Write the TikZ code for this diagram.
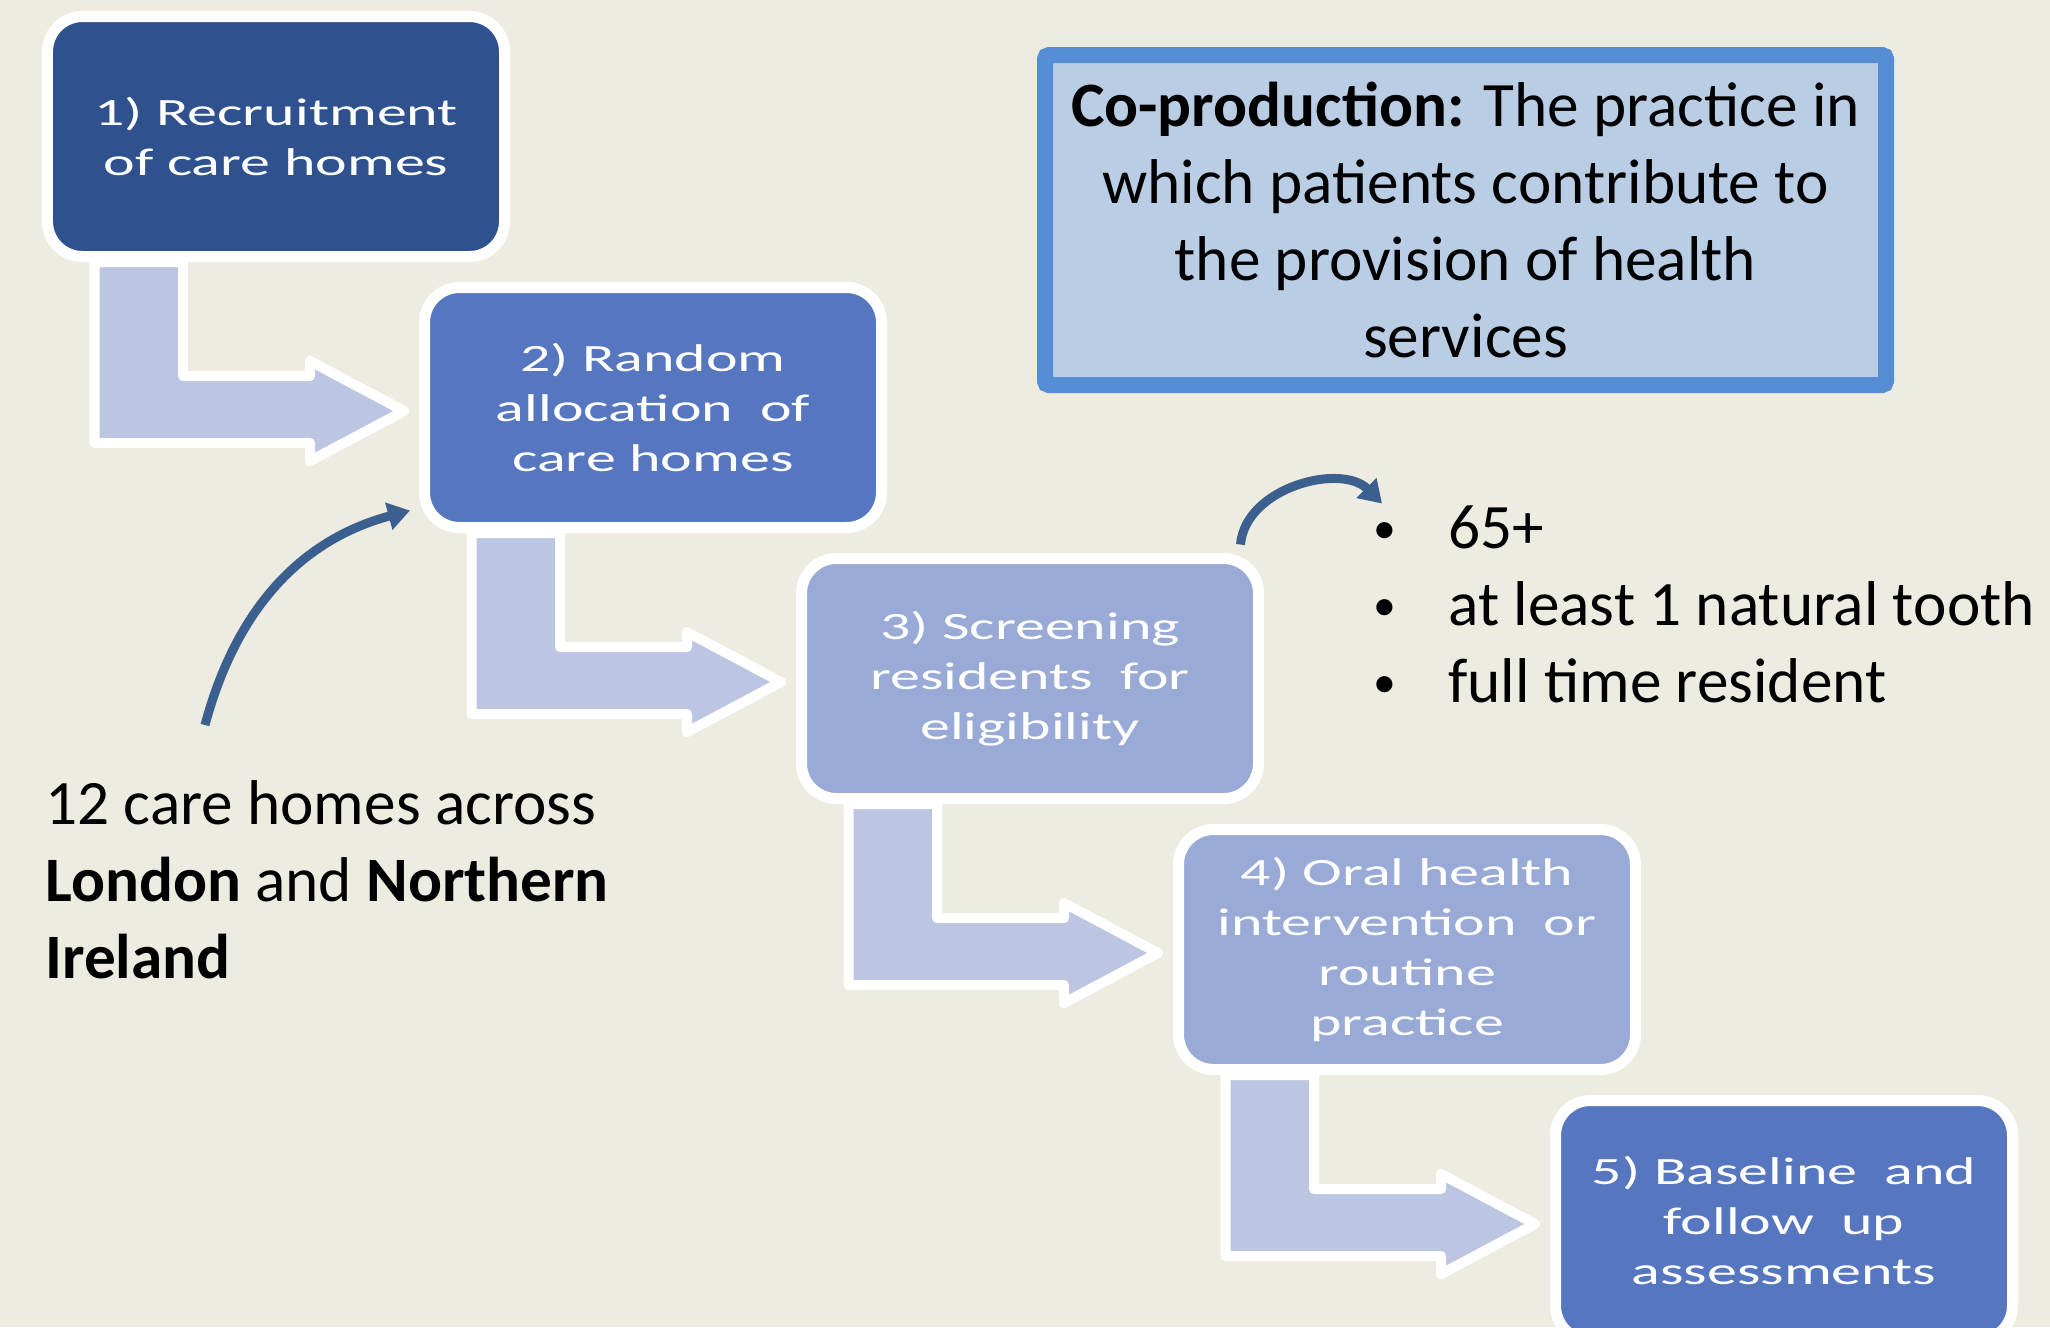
\documentclass[tikz,border=0pt]{standalone}
\usepackage{fontspec}
\setmainfont{Carlito}
\newfontfamily\boxfont[FakeStretch=1.55]{Carlito}
\usetikzlibrary{arrows.meta,calc,backgrounds}
\definecolor{bgtan}{HTML}{EEECE1}
\definecolor{stepdark}{HTML}{2F528F}
\definecolor{stepmid}{HTML}{5677C0}
\definecolor{steplight}{HTML}{98AAD5}
\definecolor{bendfill}{HTML}{BCC6E2}
\definecolor{defborder}{HTML}{558ED5}
\definecolor{deffill}{HTML}{B9CDE5}
\definecolor{curvecol}{HTML}{3B5F8F}
\newcommand{\dotitem}{\makebox[0.75cm][l]{\raisebox{0.08em}{\fontsize{13}{13}\selectfont\textbullet}}}
\tikzset{
  stepbox/.style={rectangle, rounded corners=0.35cm, draw=white, line width=0.11cm,
    minimum width=4.57cm, minimum height=2.4cm, text=white, align=center,
    font=\boxfont\fontsize{11}{14.2}\selectfont},
  bentarrow/.style={draw=white, line width=0.1cm, fill=bendfill, line join=round},
  curvearrow/.style={draw=curvecol, line width=0.09cm, -{Triangle[length=0.22cm,width=0.27cm]}},
  bigtext/.style={font=\fontsize{18}{21.9}\selectfont}
}
\begin{document}
\begin{tikzpicture}
\useasboundingbox (0,0) rectangle (20.5,-13.27);
\clip (0,0) rectangle (20.5,-13.27);

% the five steps
\node[stepbox, fill=stepdark] (b1) at (2.76,-1.365) {1) Recruitment\\of care homes};
\node[stepbox, fill=stepmid] (b2) at (6.53,-4.075) {2) Random\\allocation\ \ of\\care homes};
\node[stepbox, fill=steplight] (b3) at (10.30,-6.785) {3) Screening\\residents\ \ for\\eligibility};
\node[stepbox, fill=steplight] (b4) at (14.07,-9.495) {4) Oral health\\intervention\ \ or\\routine\\practice};
\node[stepbox, fill=stepmid] (b5) at (17.84,-12.205) {5) Baseline\ \ and\\follow\ \ up\\assessments};

% definition box
\node[draw=defborder, fill=deffill, line width=0.16cm, rounded corners=0.04cm,
    minimum width=8.41cm, minimum height=3.3cm, bigtext, align=center] (def) at (14.655,-2.2)
    {\textbf{Co-production:} The practice in\\which patients contribute to\\the provision of health\\services};

% side texts
\node[bigtext, align=left, anchor=west] (crit) at (13.61,-6.045)
    {\dotitem 65+\\\dotitem at least 1 natural tooth\\\dotitem full time resident};
\node[bigtext, align=left, anchor=west] (homes) at (0.33,-8.80)
    {12 care homes across\\\textbf{London} and \textbf{Northern}\\\textbf{Ireland}};

% curved pointers
\coordinate (t1) at (2.05,-7.25);
\draw[curvearrow] (t1) to[out=75,in=195] ([shift={(-0.09,0.225)}]b2.south west);
\draw[curvearrow] ([shift={(-0.235,0.085)}]b3.north east) to[out=85,in=135] ([shift={(0.21,-0.10)}]crit.north west);

% bent arrows between the steps
\begin{scope}[on background layer]
\fill[bgtan] (0,0) rectangle (20.5,-13.27);
\draw[bentarrow] ($(b1.south west)+(0.525,0)$) |- ($(b2.west)+(-1.09,-0.355)$) -- ++(0,-0.18)
    -- ($(b2.west)+(-0.15,-0.035)$) -- ($(b2.west)+(-1.09,0.465)$) -- ++(0,-0.15) -| ($(b1.south west)+(1.41,0)$) -- cycle;
\draw[bentarrow] ($(b2.south west)+(0.525,0)$) |- ($(b3.west)+(-1.09,-0.355)$) -- ++(0,-0.18)
    -- ($(b3.west)+(-0.15,-0.035)$) -- ($(b3.west)+(-1.09,0.465)$) -- ++(0,-0.15) -| ($(b2.south west)+(1.41,0)$) -- cycle;
\draw[bentarrow] ($(b3.south west)+(0.525,0)$) |- ($(b4.west)+(-1.09,-0.355)$) -- ++(0,-0.18)
    -- ($(b4.west)+(-0.15,-0.035)$) -- ($(b4.west)+(-1.09,0.465)$) -- ++(0,-0.15) -| ($(b3.south west)+(1.41,0)$) -- cycle;
\draw[bentarrow] ($(b4.south west)+(0.525,0)$) |- ($(b5.west)+(-1.09,-0.355)$) -- ++(0,-0.18)
    -- ($(b5.west)+(-0.15,-0.035)$) -- ($(b5.west)+(-1.09,0.465)$) -- ++(0,-0.15) -| ($(b4.south west)+(1.41,0)$) -- cycle;
\end{scope}
\end{tikzpicture}
\end{document}
